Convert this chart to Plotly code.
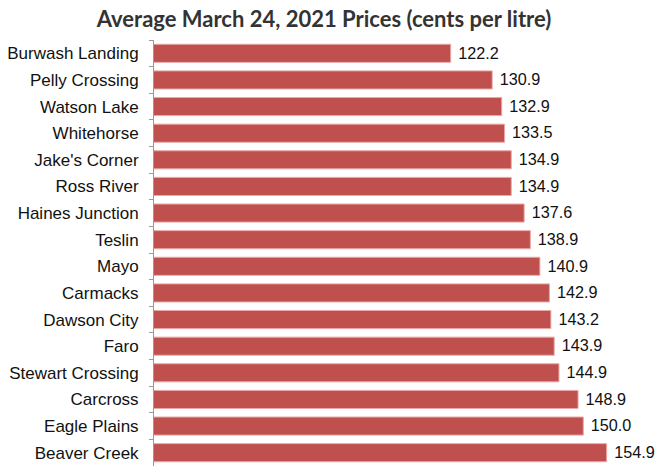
import plotly.graph_objects as go

communities = ["Burwash Landing", "Pelly Crossing", "Watson Lake", "Whitehorse", "Jake's Corner",
               "Ross River", "Haines Junction", "Teslin", "Mayo", "Carmacks", "Dawson City", "Faro",
               "Stewart Crossing", "Carcross", "Eagle Plains", "Beaver Creek"]
prices = [122.2, 130.9, 132.9, 133.5, 134.9, 134.9, 137.6, 138.9, 140.9, 142.9, 143.2, 143.9,
          144.9, 148.9, 150.0, 154.9]

fig = go.Figure(go.Bar(
    x=prices, y=communities, orientation="h",
    marker=dict(color="#C0504D", line=dict(color="#E8A9A7", width=1)),
    text=["\u00a0" + f"{p:.1f}" for p in prices], textposition="outside",
    textfont=dict(family="Liberation Sans, Arial", size=17, color="#111111"),
    cliponaxis=False, width=0.68, hoverinfo="skip",
))

fig.update_layout(
    width=658, height=466,
    margin=dict(l=154, r=27, t=40, b=0, autoexpand=False),
    paper_bgcolor="white", plot_bgcolor="white",
    title=dict(text="<b>Average March 24, 2021 Prices (cents per litre)</b>",
               x=324 / 658, xanchor="center", xref="container", y=1 - 19 / 466, yref="container",
               yanchor="middle",
               font=dict(family="Lato, Open Sans", size=22, color="#333333")),
    showlegend=False,
    xaxis=dict(range=[60, 160], visible=False, automargin=False),
    yaxis=dict(autorange="reversed", showline=True, linecolor="#999999", linewidth=1,
               ticks="outside", ticklen=4, tickcolor="#999999", tickson="boundaries",
               ticklabelstandoff=11, automargin=False,
               tickfont=dict(family="Liberation Sans, Arial", size=17, color="#111111")),
)

fig.write_html("out.html", config={"displayModeBar": False},
               post_script="document.body.style.margin='0';")
